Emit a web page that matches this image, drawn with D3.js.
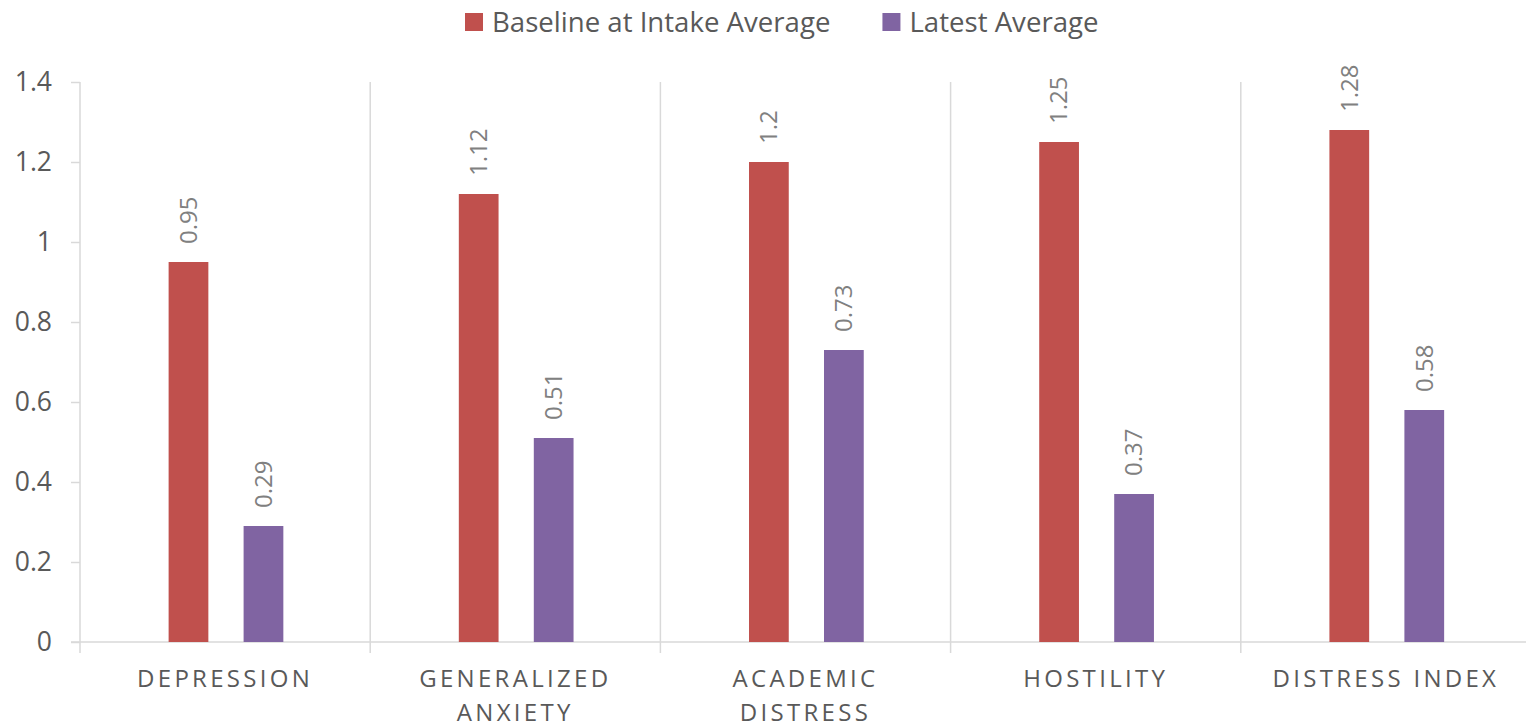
<!DOCTYPE html>
<html>
<head>
<meta charset="utf-8">
<script src="https://cdn.jsdelivr.net/npm/d3@7"></script>
<style>
  body { margin: 0; background: #fff; }
  svg { display: block; font-family: "Open Sans", sans-serif; }
</style>
</head>
<body>
<div id="chart"></div>
<script>
// Chart data
const categories = ["Depression", "Generalized Anxiety", "Academic Distress", "Hostility", "Distress Index"];
const seriesNames = ["Baseline at Intake Average", "Latest Average"];
const baseline = [0.95, 1.12, 1.2, 1.25, 1.28];
const latest = [0.29, 0.51, 0.73, 0.37, 0.58];
const yTicks = [0, 0.2, 0.4, 0.6, 0.8, 1, 1.2, 1.4];
const colors = ["#C0504D", "#8064A2"];

const W = 1526, H = 725;
const margin = { top: 82, right: -5, bottom: 83, left: 80 };
const plotW = W - margin.left - margin.right;
const plotH = H - margin.top - margin.bottom;

const svg = d3.select("#chart").append("svg")
  .attr("width", W)
  .attr("height", H);

const g = svg.append("g")
  .attr("transform", `translate(${margin.left},${margin.top})`);

// Scales
const x0 = d3.scaleBand().domain(categories).range([0, plotW]).padding(0);
const x1 = d3.scaleBand().domain(seriesNames).range([0, x0.bandwidth()])
  .paddingInner(0.47).paddingOuter(1.17).align(0.505);
const y = d3.scaleLinear().domain([0, 1.4]).range([plotH, 0]);

const grid = "#d9d9d9";

// Vertical category separators
g.selectAll(".sep")
  .data(categories.concat(["end"]))
  .enter().append("line")
  .attr("x1", (d, i) => i * x0.step())
  .attr("x2", (d, i) => i * x0.step())
  .attr("y1", 0)
  .attr("y2", plotH + 11)
  .attr("stroke", grid)
  .attr("stroke-width", 1.5);

// Baseline axis
g.append("line")
  .attr("x1", -9).attr("x2", plotW)
  .attr("y1", y(0)).attr("y2", y(0))
  .attr("stroke", grid).attr("stroke-width", 1.5);

// Y axis with small ticks and labels
const yAxis = g.append("g")
  .call(d3.axisLeft(y).tickValues(yTicks).tickSize(9).tickPadding(19).tickFormat(d3.format("")));
yAxis.select(".domain").remove();
yAxis.selectAll("line")
  .attr("stroke", grid)
  .attr("stroke-width", 1.5);
yAxis.selectAll("text")
  .attr("fill", "#595959")
  .style("font-size", "26.5px")
  .style("font-family", "'Open Sans', sans-serif");

// Bars
const rows = categories.map((c, i) => ({ cat: c, vals: [baseline[i], latest[i]] }));

const groups = g.selectAll(".cat")
  .data(rows)
  .enter().append("g")
  .attr("transform", d => `translate(${x0(d.cat)},0)`);

groups.selectAll("rect")
  .data(d => d.vals.map((v, j) => ({ s: seriesNames[j], v, j })))
  .enter().append("rect")
  .attr("x", d => x1(d.s))
  .attr("width", x1.bandwidth())
  .attr("y", d => y(d.v))
  .attr("height", d => y(0) - y(d.v))
  .attr("fill", d => colors[d.j]);

// Value labels (rotated)
groups.selectAll(".val")
  .data(d => d.vals.map((v, j) => ({ s: seriesNames[j], v, j })))
  .enter().append("text")
  .attr("transform", d => `translate(${x1(d.s) + x1.bandwidth() / 2},${y(d.v) - 18}) rotate(-90)`)
  .attr("dy", "0.35em")
  .attr("text-anchor", "start")
  .attr("fill", "#808080")
  .style("font-size", "24px")
  .text(d => d.v);

// Category labels, wrapped to the band width
const catLabels = g.selectAll(".catlabel")
  .data(categories)
  .enter().append("text")
  .attr("x", d => x0(d) + x0.bandwidth() / 2)
  .attr("y", plotH + 45)
  .attr("text-anchor", "middle")
  .attr("fill", "#595959")
  .style("font-size", "24px")
  .style("letter-spacing", "3.3px");

catLabels.each(function (d) {
  const el = d3.select(this);
  const words = d.toUpperCase().split(" ");
  let line = [];
  let tspan = el.append("tspan").attr("x", el.attr("x")).attr("dy", 0);
  words.forEach(w => {
    line.push(w);
    tspan.text(line.join(" "));
    if (tspan.node().getComputedTextLength() > x0.bandwidth() - 20 && line.length > 1) {
      line.pop();
      tspan.text(line.join(" "));
      line = [w];
      tspan = el.append("tspan").attr("x", el.attr("x")).attr("dy", 34).text(w);
    }
  });
});

// Legend
const legend = svg.append("g").attr("transform", "translate(465,13)");
const items = legend.selectAll(".item")
  .data(seriesNames)
  .enter().append("g");

items.append("rect")
  .attr("width", 18).attr("height", 18)
  .attr("fill", (d, i) => colors[i]);

items.append("text")
  .attr("x", 27).attr("y", 9)
  .attr("dy", "0.35em")
  .attr("fill", "#595959")
  .style("font-size", "27.6px")
  .text(d => d);

// Place legend items next to each other
let offset = 0;
items.each(function () {
  const item = d3.select(this);
  item.attr("transform", `translate(${offset},0)`);
  offset += this.getBBox().width + 52;
});
</script>
</body>
</html>
